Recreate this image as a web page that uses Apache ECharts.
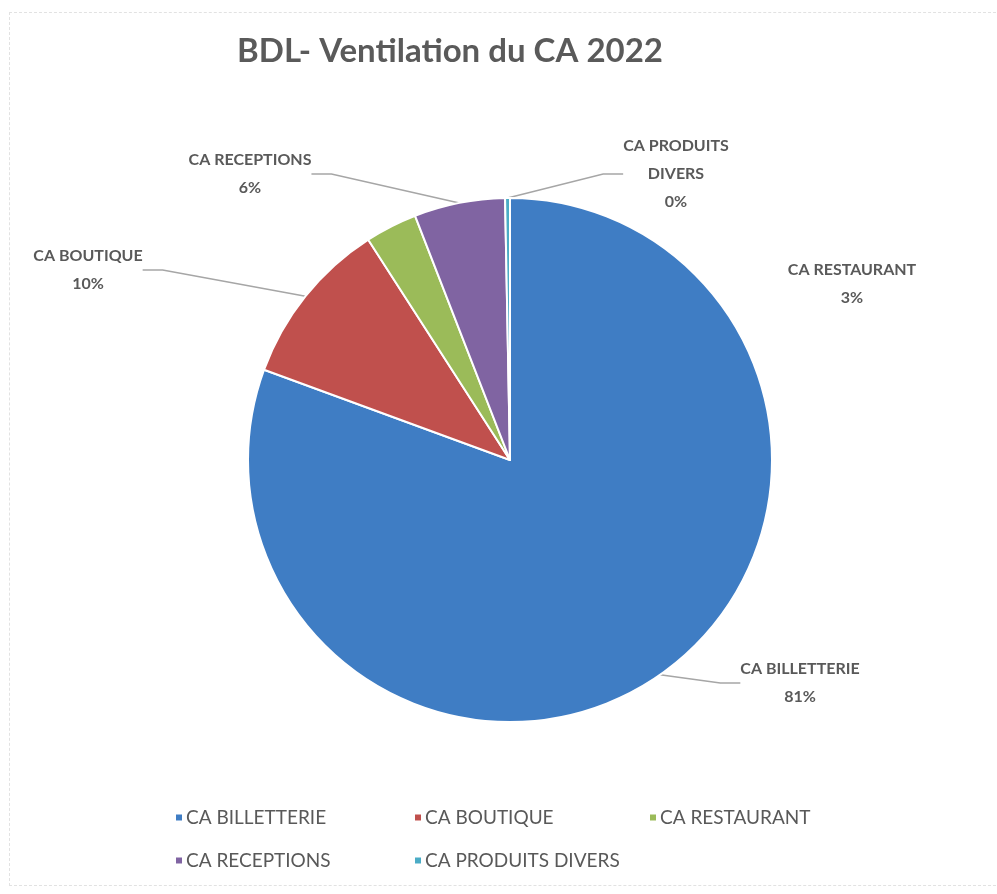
<!DOCTYPE html>
<html>
<head>
<meta charset="utf-8">
<script src="https://cdn.jsdelivr.net/npm/echarts@6/dist/echarts.min.js"></script>
<style>
  html, body { margin: 0; padding: 0; background: #fff; }
  #wrap { position: relative; width: 997px; height: 894px; overflow: hidden; }
  #chart { width: 997px; height: 894px; }
  #frame { position: absolute; left: 9px; top: 12px; width: 1000px; height: 872px;
           border: 1px dashed #e2e2e2; pointer-events: none; }
</style>
</head>
<body>
<div id="wrap">
  <div id="chart"></div>
  <div id="frame"></div>
</div>
<script>
var categories = ['CA BILLETTERIE', 'CA BOUTIQUE', 'CA RESTAURANT', 'CA RECEPTIONS', 'CA PRODUITS DIVERS'];
var labelNames = ['CA BILLETTERIE', 'CA BOUTIQUE', 'CA RESTAURANT', 'CA RECEPTIONS', 'CA PRODUITS\nDIVERS'];
var values = [80.6, 10.3, 3.2, 5.6, 0.3];
var colors = ['#3f7dc4', '#c0504d', '#9bbb59', '#8064a2', '#4bacc6'];

// where each outside label sits (text centre)
var labelSpots = [[800, 683], [88, 270], [852, 284], [250, 174], [676, 174]];
// legend grid: 3 columns, 2 rows
var legendSpots = [[174, 808], [413, 808], [648, 808], [174, 851], [413, 851]];

function init_chart() {
  var chartDom = document.getElementById('chart');
  var myChart = echarts.init(chartDom);

  var data = categories.map(function (name, i) {
    return {
      value: values[i],
      name: name,
      itemStyle: { color: colors[i] },
      labelLine: { show: i !== 2 }
    };
  });

  var legends = categories.map(function (name, i) {
    return {
      left: legendSpots[i][0],
      top: legendSpots[i][1],
      padding: 0,
      itemWidth: 8,
      itemHeight: 8,
      icon: 'rect',
      textStyle: { fontFamily: 'Lato', fontSize: 19, color: '#595959', padding: [0, 0, 0, -2] },
      data: [name]
    };
  });

  var option = {
    color: colors,
    title: {
      text: 'BDL- Ventilation du CA 2022',
      left: 445,
      top: 30,
      textAlign: 'center',
      textStyle: { fontFamily: 'Lato', fontSize: 33, fontWeight: 'bold', color: '#5a5a5a' }
    },
    legend: legends,
    series: [
      {
        type: 'pie',
        center: [510, 460],
        radius: 262,
        startAngle: 90,
        clockwise: true,
        percentPrecision: 0,
        avoidLabelOverlap: false,
        itemStyle: { borderColor: '#fff', borderWidth: 2 },
        label: {
          show: true,
          position: 'outside',
          fontFamily: 'Lato',
          fontSize: 16,
          fontWeight: 'bold',
          color: '#595959',
          lineHeight: 28,
          align: 'center',
          formatter: function (p) {
            return labelNames[p.dataIndex] + '\n' + p.percent + '%';
          }
        },
        labelLine: {
          show: true,
          length: 20,
          length2: 20,
          lineStyle: { color: '#a6a6a6', width: 1.5 }
        },
        labelLayout: function (params) {
          var s = labelSpots[params.dataIndex];
          return { x: s[0], y: s[1], align: 'center', verticalAlign: 'middle' };
        },
        emphasis: { disabled: true },
        data: data
      }
    ]
  };

  myChart.setOption(option);
}

init_chart();
</script>
</body>
</html>
